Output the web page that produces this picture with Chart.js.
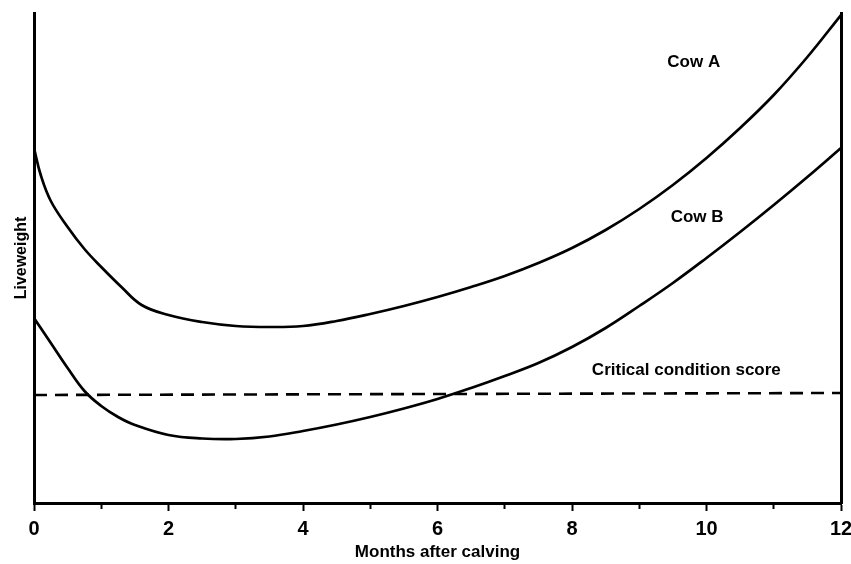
<!DOCTYPE html>
<html>
<head>
<meta charset="utf-8">
<script src="https://cdn.jsdelivr.net/npm/chart.js@4/dist/chart.umd.min.js"></script>
<style>
  html, body { margin: 0; padding: 0; background: #fff; }
  #wrap { width: 851px; height: 564px; }
</style>
</head>
<body>
<div id="wrap"><canvas id="c" width="851" height="564"></canvas></div>
<script>
// Months after calving
const monthsA = [0, 0.1, 0.25, 0.5, 0.75, 1, 1.3, 1.6, 2, 2.5, 3, 3.5, 4, 4.5, 5, 5.5, 6, 6.5, 7, 7.5, 8, 8.5, 9, 9.5, 10, 10.5, 11, 11.5, 12];
// Liveweight (relative units)
const cowA = [355, 328, 302, 276, 254, 236, 216, 198, 188, 181, 177, 176, 177, 182, 189, 197, 206, 216, 227, 240, 255, 273, 294, 318, 345, 375, 408, 446, 488];
const monthsB = [0, 0.25, 0.5, 0.75, 1, 1.25, 1.5, 2, 2.5, 3, 3.5, 4, 4.5, 5, 5.5, 6, 6.5, 7, 7.5, 8, 8.5, 9, 9.5, 10, 10.5, 11, 11.5, 12];
const cowB = [185, 160, 135, 112, 97, 86, 78, 68, 64.5, 64, 66.5, 72, 78.5, 86, 94.5, 104, 115, 127, 140, 156, 175, 197, 220, 245, 271, 298, 326, 355];
const criticalMonths = [0, 12];
const criticalScore = [108, 110];
const xTicks = [0, 2, 4, 6, 8, 10, 12];
const labels = [
  { text: 'Cow A', x: 9.81, y: 441 },
  { text: 'Cow B', x: 9.86, y: 286 },
  { text: 'Critical condition score', x: 9.70, y: 133 }
];

const toXY = (xs, ys) => xs.map((x, i) => ({ x: x, y: ys[i] }));
const FONT = '"Liberation Sans", Arial, Helvetica, sans-serif';

const textPlugin = {
  id: 'curveLabels',
  afterDatasetsDraw(chart) {
    const ctx = chart.ctx;
    const xs = chart.scales.x, ys = chart.scales.y;
    ctx.save();
    ctx.fillStyle = '#000';
    ctx.font = 'bold 17px ' + FONT;
    ctx.textAlign = 'center';
    ctx.textBaseline = 'middle';
    labels.forEach(l => ctx.fillText(l.text, xs.getPixelForValue(l.x), ys.getPixelForValue(l.y)));
    ctx.restore();
  }
};

new Chart(document.getElementById('c'), {
  type: 'line',
  data: {
    datasets: [
      { label: 'Cow A', data: toXY(monthsA, cowA), borderColor: '#000', borderWidth: 2.7, pointRadius: 0, tension: 0.4, fill: false },
      { label: 'Cow B', data: toXY(monthsB, cowB), borderColor: '#000', borderWidth: 2.7, pointRadius: 0, tension: 0.4, fill: false },
      { label: 'Critical condition score', data: toXY(criticalMonths, criticalScore), borderColor: '#000', borderWidth: 2.6, borderDash: [13, 8], pointRadius: 0, tension: 0, fill: false }
    ]
  },
  options: {
    responsive: false,
    animation: false,
    events: [],
    layout: { padding: { top: 13, left: 0, right: 10, bottom: 0 } },
    plugins: { legend: { display: false }, tooltip: { enabled: false } },
    scales: {
      x: {
        type: 'linear', min: 0, max: 12, position: 'bottom',
        border: { display: true, color: '#000', width: 3 },
        grid: {
          drawOnChartArea: false, drawTicks: true, tickLength: 8, tickColor: '#000', tickWidth: 2,
          tickBorderDash: ctx => (ctx.tick && ctx.tick.value % 2 !== 0) ? [4, 60] : []
        },
        ticks: {
          stepSize: 1, autoSkip: false, maxRotation: 0, color: '#000', padding: 6,
          font: { size: 20, weight: 'bold', family: FONT },
          callback: v => xTicks.includes(v) ? String(v) : ''
        },
        title: { display: true, text: 'Months after calving', color: '#000', font: { size: 17, weight: 'bold', family: FONT }, padding: { top: 0, bottom: 1 } },
        afterFit: s => { s.height = 61; s.paddingLeft = 0; s.paddingRight = 0; }
      },
      y: {
        type: 'linear', min: 0, max: 490, position: 'left',
        border: { display: true, color: '#000', width: 3 },
        grid: { display: false },
        ticks: { display: false },
        title: { display: true, text: 'Liveweight', color: '#000', font: { size: 16, weight: 'bold', family: FONT }, padding: { top: 12, bottom: 0 } },
        afterFit: s => { s.width = 34; }
      },
      yR: {
        type: 'linear', min: 0, max: 490, position: 'right',
        border: { display: true, color: '#000', width: 3 },
        grid: { display: false },
        ticks: { display: false },
        afterFit: s => { s.width = 0; }
      }
    }
  },
  plugins: [textPlugin]
});
</script>
</body>
</html>
